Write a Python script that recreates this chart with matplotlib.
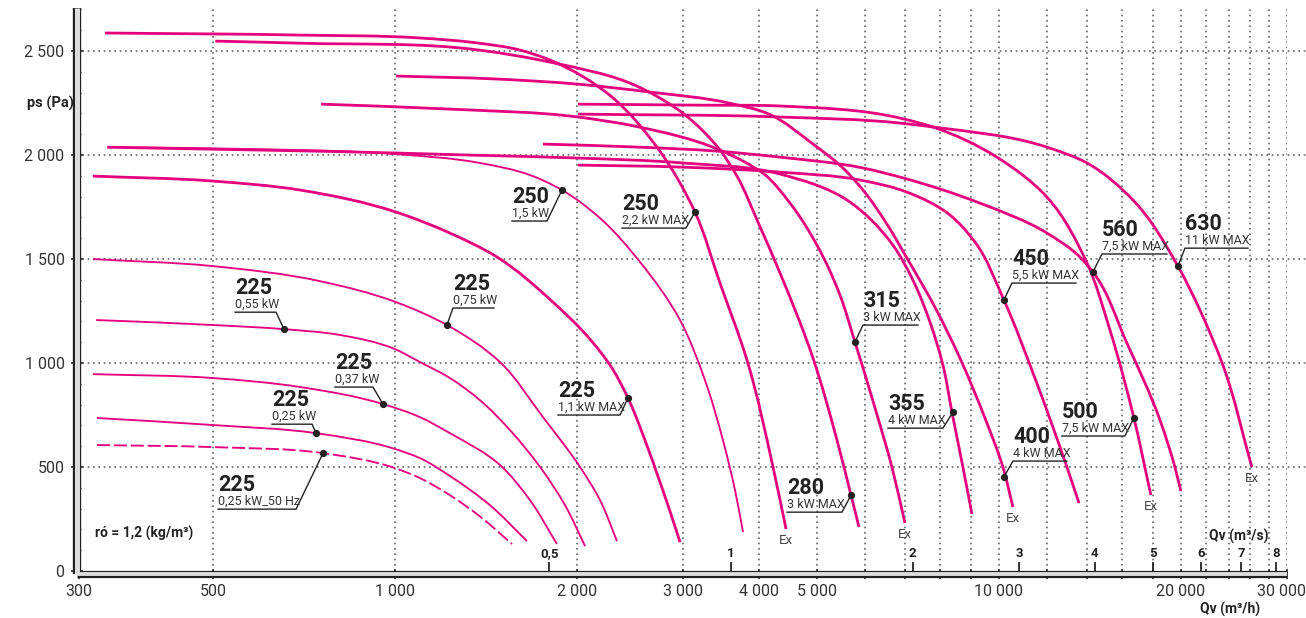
import numpy as np
import matplotlib
matplotlib.use("Agg")
import matplotlib.pyplot as plt
from matplotlib.path import Path
from matplotlib.patches import PathPatch

plt.rcParams["font.family"] = ["Roboto", "DejaVu Sans"]

# ---- DATA: Qv in m3/h, ps in Pa ----
q_225_025_50hz = [321, 500, 760, 1000, 1100, 1233, 1393, 1562]
p_225_025_50hz = [606, 596, 567, 495, 447, 365, 255, 130]

q_225_025 = [321, 500, 740, 1000, 1100, 1233, 1436, 1654]
p_225_025 = [736, 702, 663, 587, 543, 457, 317, 144]

q_225_037 = [316, 500, 696, 955, 1100, 1233, 1492, 1673, 1854]
p_225_037 = [947, 928, 885, 803, 740, 663, 510, 341, 130]

q_225_055 = [320, 500, 655, 811, 1000, 1100, 1233, 1382, 1550, 1739, 1912, 2064]
p_225_055 = [1207, 1183, 1163, 1135, 1067, 1005, 928, 822, 678, 500, 317, 120]

q_225_075 = [316, 500, 751, 1004, 1219, 1492, 1758, 2025, 2185, 2331]
p_225_075 = [1500, 1466, 1394, 1293, 1183, 1005, 740, 500, 341, 144]

q_225_11 = [316, 500, 696, 1004, 1233, 1475, 1826, 2103, 2287, 2431, 2593, 2746, 2874, 2964]
p_225_11 = [1899, 1875, 1832, 1726, 1625, 1510, 1293, 1115, 976, 832, 630, 428, 260, 139]

q_250_15 = [334, 575, 1000, 1382, 1673, 1890, 2185, 2545, 2964, 3260, 3491, 3656, 3769]
p_250_15 = [2038, 2029, 2005, 1962, 1904, 1832, 1697, 1486, 1207, 918, 630, 389, 188]

q_250_22 = [331, 696, 1100, 1377, 1610, 1805, 2287, 2715, 3138, 3452, 3827, 4226, 4441]
p_250_22 = [2587, 2577, 2563, 2538, 2505, 2457, 2279, 2038, 1726, 1385, 1014, 500, 202]

q_280 = [504, 696, 1377, 1805, 2535, 3010, 3452, 3683, 3990, 4340, 4922, 5393, 5689, 5865]
p_280 = [2548, 2538, 2505, 2447, 2327, 2197, 2024, 1899, 1678, 1433, 1024, 630, 365, 212]

q_315 = [754, 1233, 2009, 2497, 3452, 3798, 4083, 4509, 4997, 5455, 5776, 6235, 6650, 6988]
p_315 = [2245, 2221, 2183, 2139, 2024, 1966, 1909, 1769, 1567, 1327, 1101, 784, 500, 231]

q_355 = [334, 1000, 1331, 2000, 2998, 4340, 5602, 6675, 7204, 7688, 8078, 8360, 8717, 9023]
p_355 = [2038, 2010, 2000, 1986, 1962, 1909, 1784, 1567, 1399, 1197, 990, 764, 500, 274]

q_400 = [1004, 1492, 2009, 2644, 3573, 4162, 4922, 5517, 5955, 6525, 7041, 7834, 8618, 9480, 10153, 10549]
p_400 = [2380, 2365, 2341, 2303, 2250, 2197, 2053, 1938, 1832, 1668, 1505, 1269, 1024, 736, 500, 308]

q_450 = [2009, 2998, 4340, 5888, 7041, 8296, 9127, 10192, 11470, 12960, 13570]
p_450 = [1952, 1942, 1918, 1880, 1822, 1712, 1582, 1303, 928, 500, 327]

q_500 = [2009, 3199, 4340, 6856, 7775, 9924, 12010, 13990, 15270, 16730, 17850]
p_500 = [2245, 2240, 2236, 2178, 2135, 1990, 1798, 1481, 1159, 736, 365]

q_560 = [1758, 2545, 3413, 4340, 5955, 7041, 9302, 12010, 13620, 14310, 16290, 18480, 19560, 20010]
p_560 = [2053, 2038, 2019, 1990, 1938, 1885, 1769, 1625, 1510, 1438, 1096, 726, 500, 385]

q_630 = [2009, 4340, 6856, 7775, 12010, 13990, 16670, 19790, 21520, 23490, 26230]
p_630 = [2197, 2183, 2154, 2135, 2038, 1962, 1784, 1466, 1255, 990, 500]

# operating points (dots) and their labels, same order as the curves
op_q = [760, 740, 955, 655, 1219, 2431, 1890, 3138, 5689, 5776, 8391, 10192, 10192, 16730, 14310, 19790]
op_p = [567, 663, 803, 1163, 1183, 832, 1832, 1726, 365, 1101, 764, 452, 1303, 736, 1438, 1466]
fan_sizes = ["225", "225", "225", "225", "225", "225", "250", "250",
             "280", "315", "355", "400", "450", "500", "560", "630"]
fan_powers = ["0,25 kW_50 Hz", "0,25 kW", "0,37 kW", "0,55 kW", "0,75 kW", "1,1 kW MAX",
              "1,5 kW", "2,2 kW MAX", "3 kW MAX", "3 kW MAX", "4 kW MAX", "4 kW MAX",
              "5,5 kW MAX", "7,5 kW MAX", "7,5 kW MAX", "11 kW MAX"]
ex_marked = [False, False, False, False, False, False, False, True,
             False, True, False, True, False, True, False, True]

# axis ticks
x_grid = [500, 1000, 2000, 3000, 4000, 5000, 6000, 7000, 8000, 9000, 10000,
          12000, 14000, 16000, 18000, 20000, 22000, 24000, 26000, 28000, 30000]
x_labelled = {300: "300", 500: "500", 1000: "1 000", 2000: "2 000", 3000: "3 000",
              4000: "4 000", 5000: "5 000", 10000: "10 000", 20000: "20 000"}
y_major = [0, 500, 1000, 1500, 2000, 2500]
y_labels = ["0", "500", "1 000", "1 500", "2 000", "2 500"]
qv_m3s = [0.5, 1, 2, 3, 4, 5, 6, 7, 8]
qv_m3s_labels = ["0,5", "1", "2", "3", "4", "5", "6", "7", "8"]

# ---- STYLE / LAYOUT ----
MAGENTA = "#e5007e"
DARK = "#222222"
GRID = "#666666"

curves = [
    (q_225_025_50hz, p_225_025_50hz, "dash"),
    (q_225_025, p_225_025, "thin"),
    (q_225_037, p_225_037, "thin"),
    (q_225_055, p_225_055, "thin"),
    (q_225_075, p_225_075, "thin"),
    (q_225_11, p_225_11, "thick"),
    (q_250_15, p_250_15, "thin"),
    (q_250_22, p_250_22, "thick"),
    (q_280, p_280, "thick"),
    (q_315, p_315, "thick"),
    (q_355, p_355, "thick"),
    (q_400, p_400, "thick"),
    (q_450, p_450, "thick"),
    (q_500, p_500, "thick"),
    (q_560, p_560, "thick"),
    (q_630, p_630, "thick"),
]

# label placement in pixels relative to the dot: leader end dx, dy (down), underline length, side
label_layout = [
    (-27, 56, 78, "r"), (-4, -9, 40, "r"), (-10, -17, 38, "r"), (-8, -17, 41, "r"),
    (6, -17, 41, "l"), (-8, 17, 62, "r"), (-15, 31, 35, "r"), (-9, 16, 64, "r"),
    (-9, 17, 55, "r"), (8, -17, 55, "l"), (-10, 16, 55, "r"), (9, -16, 54, "l"),
    (8, -17, 64, "l"), (-9, 18, 63, "r"), (9, -18, 65, "l"), (7, -18, 63, "l"),
]

fig = plt.figure(figsize=(13.06, 6.18), dpi=100, facecolor="white")
ax = fig.add_axes([0.059, 0.0712, 0.9265, 0.9158])
ax.set_xscale("log")
ax.set_xlim(297.5, 30000)
ax.set_ylim(-14, 2707)
for s in ax.spines.values():
    s.set_visible(False)

to_px = ax.transData.transform
to_data = ax.transData.inverted().transform


def smooth_curve_path(q, p):
    """Cubic spline through the read points, built in screen space (chord-length tangents)."""
    pts = to_px(np.column_stack([q, p]))
    h = np.hypot(*np.diff(pts, axis=0).T)
    n = len(pts)
    m = np.zeros_like(pts)
    m[0] = (pts[1] - pts[0]) / h[0]
    m[-1] = (pts[-1] - pts[-2]) / h[-1]
    for i in range(1, n - 1):
        s0 = (pts[i] - pts[i - 1]) / h[i - 1]
        s1 = (pts[i + 1] - pts[i]) / h[i]
        m[i] = (s0 * h[i] + s1 * h[i - 1]) / (h[i - 1] + h[i])
    verts = [pts[0]]
    codes = [Path.MOVETO]
    for i in range(n - 1):
        verts += [pts[i] + m[i] * h[i] / 3, pts[i + 1] - m[i + 1] * h[i] / 3, pts[i + 1]]
        codes += [Path.CURVE4] * 3
    return Path(to_data(np.array(verts)), codes)


# dotted grid
for xv in x_grid:
    ax.plot([xv, xv], [0, 2707], color=GRID, lw=1.2, ls=(0, (1, 2.2)), zorder=1)
for yv in y_major[1:]:
    ax.axhline(yv, xmin=0, xmax=1.016, color=GRID, lw=1.2, ls=(0, (1, 2.2)),
               zorder=1, clip_on=False)

# axis bands (grey with black edges)
ax.plot([0, 0], [0, 1], transform=ax.transAxes, color=DARK, lw=6.0,
        solid_capstyle="butt", clip_on=False, zorder=2.3)
ax.plot([0, 0], [0, 1], transform=ax.transAxes, color="#dcdcdc", lw=3.6,
        solid_capstyle="butt", clip_on=False, zorder=2.35)
ax.plot([0, 1], [0, 0], transform=ax.transAxes, color=DARK, lw=5.2,
        solid_capstyle="butt", clip_on=False, zorder=2.3)
ax.plot([0, 1], [0, 0], transform=ax.transAxes, color="#dcdcdc", lw=2.8,
        solid_capstyle="butt", clip_on=False, zorder=2.35)

# ticks
xt = [300] + x_grid
ax.set_xticks(xt)
ax.set_xticklabels([x_labelled.get(v, "") for v in xt])
ax.xaxis.set_minor_locator(matplotlib.ticker.NullLocator())
ax.tick_params(axis="x", which="major", direction="inout", length=7, width=1.2,
               color="#333333", labelsize=11.5, labelcolor="#333333", pad=3.5)
xtr = ax.get_xaxis_transform()
# last label sits on the right edge; nudge it in a little
ax.annotate("30 000", (30000, 0), xycoords=xtr, xytext=(-6, -10.5),
            textcoords="offset pixels", ha="center", va="top", fontsize=11.5,
            color="#333333", annotation_clip=False)
ax.set_yticks(y_major)
ax.set_yticklabels(y_labels)
ax.set_yticks(range(0, 2701, 100), minor=True)
ax.tick_params(axis="y", which="major", direction="inout", length=8, width=1.2,
               color="#333333", labelsize=11.5, labelcolor="#333333", pad=5)
ax.tick_params(axis="y", which="minor", direction="inout", length=6, width=1.0,
               color="#333333")

# fan curves
for q, p, kind in curves:
    if kind == "dash":
        style = dict(lw=1.35, linestyle=(0, (7, 2)))
    elif kind == "thin":
        style = dict(lw=1.35)
    else:
        style = dict(lw=2.0)
    ax.add_patch(PathPatch(smooth_curve_path(q, p), fill=False, edgecolor=MAGENTA,
                           capstyle="butt", joinstyle="round", zorder=2, **style))

for (q, p, kind), ex in zip(curves, ex_marked):
    if ex:
        ax.annotate("Ex", (q[-1], p[-1]), xytext=(0, -11), textcoords="offset pixels",
                    ha="center", va="center", fontsize=9.5, color="#444444")

# operating points and labels
ax.plot(op_q, op_p, "o", color=DARK, ms=4.2, zorder=6)
for i, (dx, dy, length, side) in enumerate(label_layout):
    px, py = to_px((op_q[i], op_p[i]))
    lx, ly = px + dx, py - dy
    x0 = lx - length if side == "r" else lx
    x1 = x0 + length
    if side == "r":
        pts = [(x0, ly), (x1, ly), (px, py)]
    else:
        pts = [(x1, ly), (x0, ly), (px, py)]
    d = to_data(pts)
    ax.plot(d[:, 0], d[:, 1], color=DARK, lw=1.0, zorder=5)
    tx, ty = to_data((x0, ly + 18))
    ax.text(tx, ty, fan_sizes[i], fontsize=15.5, fontweight="bold", color=DARK,
            ha="left", va="baseline", zorder=6)
    tx, ty = to_data((x0, ly + 4))
    ax.text(tx, ty, fan_powers[i], fontsize=9, color="#333333",
            ha="left", va="baseline", zorder=6)

# secondary flow scale in m3/s
for v, lab in zip(qv_m3s, qv_m3s_labels):
    ax.plot([v * 3600, v * 3600], [0.006, 0.02], transform=xtr, color=DARK, lw=1.3,
            clip_on=False, zorder=3)
    ax.text(v * 3600, 0.036, lab, transform=xtr, ha="center", va="center",
            fontsize=9.5, fontweight="bold", color=DARK)
ax.text(24950, 0.067, "Qv (m³/s)", transform=xtr, ha="center", va="center",
        fontsize=10, fontweight="bold", color=DARK)

fig.text(0.942, 0.002, "Qv (m³/h)", ha="center", va="bottom", fontsize=10,
         fontweight="bold", color=DARK)
fig.text(0.0207, 0.832, "ps (Pa)", ha="left", va="center", fontsize=10.5,
         fontweight="bold", color=DARK)
fig.text(0.0727, 0.1375, "ró = 1,2 (kg/m³)", ha="left", va="center", fontsize=10,
         fontweight="bold", color=DARK)

fig.savefig("out.png", dpi=100, facecolor="white")
